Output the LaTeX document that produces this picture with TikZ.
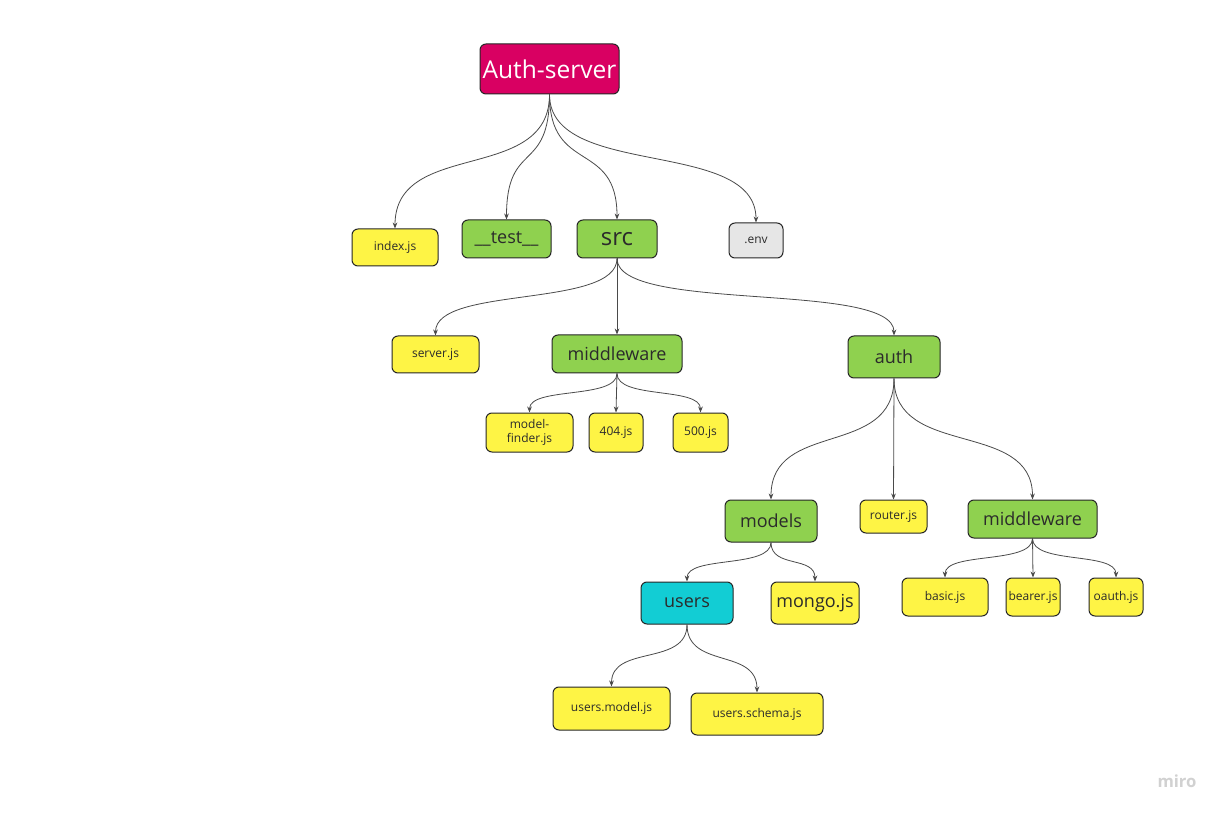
\documentclass[tikz,border=0pt]{standalone}
\usepackage{fontspec}
\setmainfont{Open Sans}
\usetikzlibrary{arrows.meta}
\definecolor{myyellow}{HTML}{FEF445}
\definecolor{mygreen}{HTML}{8FD14F}
\definecolor{mymagenta}{HTML}{D90062}
\definecolor{mycyan}{HTML}{12CDD4}
\definecolor{mygray}{HTML}{E6E6E6}
\definecolor{myedge}{HTML}{4A4A4A}
\definecolor{mytext}{HTML}{2B2B2B}
\newcommand\tconn[3]{\draw[conn] (#1.south) .. controls +(0,#3) and +(0,-#3) .. (#2.north);}
\begin{document}
\begin{tikzpicture}[x=0.75pt,y=-0.75pt,
  box/.style={draw=black!85, line width=0.75pt, rounded corners=4.5pt, inner sep=0pt, align=center, text=mytext},
  sz/.style 2 args={minimum width=#1*0.75pt, minimum height=#2*0.75pt},
  file/.style={box, fill=myyellow, font=\fontsize{9}{10.5}\selectfont},
  bigfile/.style={box, fill=myyellow, font=\fontsize{13.5}{16}\selectfont},
  dir/.style={box, fill=mygreen, font=\fontsize{13.5}{16}\selectfont},
  conn/.style={draw=myedge, line width=0.6pt, -{Stealth[length=4.5pt,width=3.5pt]}}]
\useasboundingbox (0,0) rectangle (1224,816);
\fill[white] (0,0) rectangle (1224,816);
% level 0
\node[box, fill=mymagenta, text=white, sz={139}{50}, font=\fontsize{18.4}{22}\selectfont] (root) at (549.5,69) {Auth-server};
% level 1
\node[file, sz={86}{37}] (index) at (395,247.5) {index.js};
\node[dir, sz={89}{38}] (test) at (506.5,239) {\_\_test\_\_};
\node[dir, sz={80}{38}, font=\fontsize{18}{21}\selectfont] (src) at (617,239) {src};
\node[box, fill=mygray, sz={54}{35}, font=\fontsize{9}{10.5}\selectfont] (env) at (756,240.5) {.env};
% level 2
\node[file, sz={87}{37}] (server) at (435.5,354.5) {server.js};
\node[dir, sz={130}{38}] (mw) at (617,354) {middleware};
\node[dir, sz={92}{42}] (auth) at (894,357) {auth};
% level 3
\node[file, sz={87}{39}] (mf) at (529.5,432.5) {model-\\finder.js};
\node[file, sz={54}{39}] (e404) at (616,432.5) {404.js};
\node[file, sz={55}{39}] (e500) at (700.5,432.5) {500.js};
\node[dir, sz={92}{42}] (models) at (771,521) {models};
\node[file, sz={67}{33}] (router) at (893.5,516.5) {router.js};
\node[dir, sz={129}{38}] (mw2) at (1032.5,519) {middleware};
% level 4
\node[box, fill=mycyan, sz={92}{42}, font=\fontsize{13.5}{16}\selectfont] (users) at (687,603) {users};
\node[bigfile, sz={88}{42}] (mongo) at (815,603) {mongo.js};
\node[file, sz={86}{38}] (basic) at (945,597) {basic.js};
\node[file, sz={54}{38}] (bearer) at (1033,597) {bearer.js};
\node[file, sz={54}{38}] (oauth) at (1116,597) {oauth.js};
% level 5
\node[file, sz={117}{43}] (umodel) at (611.5,708.5) {users.model.js};
\node[file, sz={132}{42}] (uschema) at (757,714) {users.schema.js};
% connectors
\tconn{root}{index}{90}
\tconn{root}{test}{80}
\tconn{root}{src}{80}
\tconn{root}{env}{85}
\tconn{src}{server}{50}
\draw[conn] (src.south) -- (mw.north);
\tconn{src}{auth}{55}
\tconn{mw}{mf}{26}
\draw[conn] (mw.south) -- (e404.north);
\tconn{mw}{e500}{26}
\tconn{auth}{models}{80}
\draw[conn] (auth.south) -- (router.north);
\tconn{auth}{mw2}{80}
\tconn{models}{users}{26}
\tconn{models}{mongo}{26}
\tconn{mw2}{basic}{26}
\draw[conn] (mw2.south) -- (bearer.north);
\tconn{mw2}{oauth}{26}
\tconn{users}{umodel}{42}
\tconn{users}{uschema}{45}
% watermark
\node[text=black!18, font=\fontsize{12.5}{15}\selectfont\bfseries] (miro) at (1177,781) {miro};
\end{tikzpicture}
\end{document}
